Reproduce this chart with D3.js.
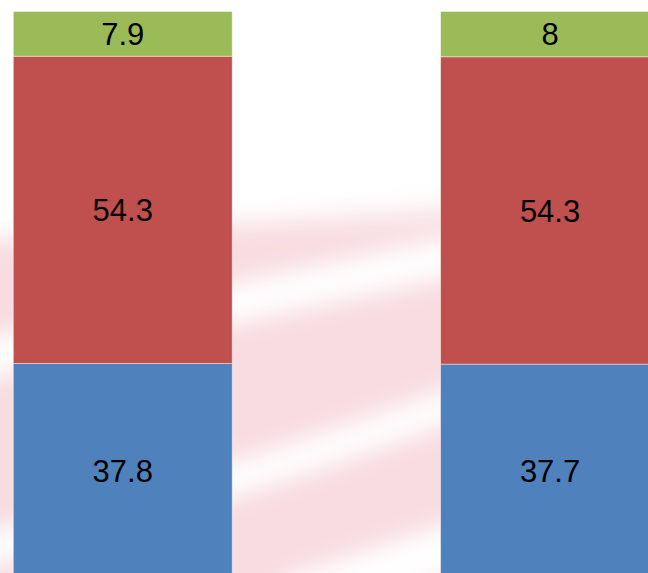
<!DOCTYPE html>
<html>
<head>
<meta charset="utf-8">
<script src="https://cdn.jsdelivr.net/npm/d3@7"></script>
<style>
  html, body { margin: 0; padding: 0; background: #fff; overflow: hidden; }
  svg { display: block; }
</style>
</head>
<body>
<svg id="chart" width="648" height="573"></svg>
<script>
// ---- data ----
const categories = ["Group 1", "Group 2"];
const seriesNames = ["Series 1", "Series 2", "Series 3"];
const series1 = [37.8, 37.7];   // blue (bottom)
const series2 = [54.3, 54.3];   // red (middle)
const series3 = [7.9, 8];       // green (top)
const seriesColors = ["#4F81BD", "#C0504D", "#9BBB59"];

const W = 648, H = 573;
const svg = d3.select("#chart");

// ---- faint watermark background ----
const defs = svg.append("defs");
defs.append("filter").attr("id", "blur").attr("x", "-30%").attr("y", "-30%")
  .attr("width", "160%").attr("height", "160%")
  .append("feGaussianBlur").attr("stdDeviation", 12);

const wm = svg.append("g").attr("filter", "url(#blur)");
wm.append("path")
  .attr("d", "M-60,240 L480,200 L480,640 L-60,640 Z")
  .attr("fill", "#f8dce0");
wm.append("path")
  .attr("d", "M-60,215 L480,185 L480,215 L-60,245 Z")
  .attr("fill", "#ffffff").attr("opacity", 0.5);
const whites = [
  { d: "M-60,370 C100,330 300,290 480,250", w: 38 },
  { d: "M-60,560 C120,520 300,460 480,395", w: 32 },
  { d: "M300,600 C360,580 420,560 480,540", w: 50 }
];
whites.forEach(b => {
  wm.append("path").attr("d", b.d).attr("fill", "none")
    .attr("stroke", "#ffffff").attr("stroke-width", b.w).attr("stroke-linecap", "round");
});

// ---- scales ----
const x = d3.scaleBand()
  .domain(categories)
  .range([13.3, 659.5])
  .paddingInner(0.4877)
  .paddingOuter(0);

const y = d3.scaleLinear().domain([0, 100]).range([577.5, 11.5]);

const table = categories.map((c, i) => ({
  cat: c,
  [seriesNames[0]]: series1[i],
  [seriesNames[1]]: series2[i],
  [seriesNames[2]]: series3[i]
}));

const stack = d3.stack().keys(seriesNames)(table);

const layers = svg.append("g").selectAll("g")
  .data(stack).join("g")
  .attr("fill", (d, i) => seriesColors[i]);

layers.selectAll("rect")
  .data(d => d)
  .join("rect")
  .attr("x", d => x(d.data.cat))
  .attr("width", x.bandwidth())
  .attr("y", d => y(d[1]))
  .attr("height", d => y(d[0]) - y(d[1]))
  .attr("stroke", "#ffffff")
  .attr("stroke-opacity", 0.55)
  .attr("stroke-width", 0.8);

// ---- labels ----
const labels = svg.append("g")
  .attr("font-family", "Liberation Sans, Arial, sans-serif")
  .attr("font-size", 31)
  .attr("fill", "#000")
  .attr("text-anchor", "middle");

stack.forEach(layer => {
  layer.forEach(d => {
    labels.append("text")
      .attr("x", x(d.data.cat) + x.bandwidth() / 2)
      .attr("y", (y(d[0]) + y(d[1])) / 2)
      .attr("dy", "0.36em")
      .text(d3.format("~g")(+(d[1] - d[0]).toFixed(1)));
  });
});
</script>
</body>
</html>
